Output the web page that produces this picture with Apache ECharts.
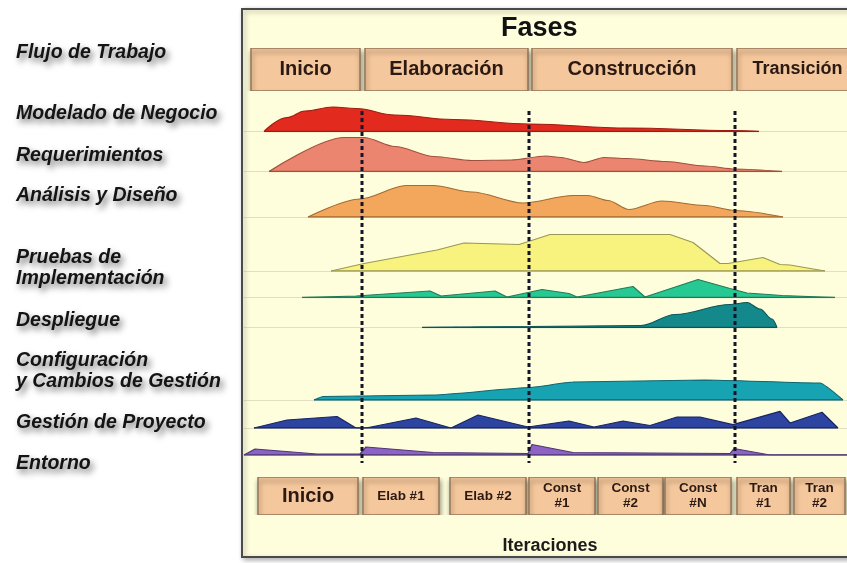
<!DOCTYPE html>
<html>
<head>
<meta charset="utf-8">
<script src="https://cdn.jsdelivr.net/npm/echarts@6/dist/echarts.min.js"></script>
<style>
  html, body { margin: 0; padding: 0; background: #ffffff; }
  #chart { width: 847px; height: 563px; }
</style>
</head>
<body>
<div id="chart"></div>
<script>
// ---- Project timeline (x axis runs from 0 to timelineMax) ----
const timelineMax = 604;

// Phases along the top
const phaseNames = ['Inicio', 'Elaboración', 'Construcción', 'Transición'];
const phaseStart = [8, 122, 289, 494];
const phaseEnd   = [117, 285, 489, 615];
const phaseBoundaries = [119, 286, 492];

// Iterations along the bottom
const iterationNames = ['Inicio', 'Elab #1', 'Elab #2', 'Const\n#1', 'Const\n#2', 'Const\n#N', 'Tran\n#1', 'Tran\n#2'];
const iterationStart = [15, 120, 207, 286, 355, 422, 494, 551];
const iterationEnd   = [115, 196, 283, 352, 420, 488, 547, 602];

// Workflow labels on the left
const workflowLabels = [
  'Flujo de Trabajo',
  'Modelado de Negocio',
  'Requerimientos',
  'Análisis y Diseño',
  'Pruebas de',
  'Implementación',
  'Despliegue',
  'Configuración',
  'y Cambios de Gestión',
  'Gestión de Proyecto',
  'Entorno'
];

// Effort over time for each workflow: [time, effort]
const modelado = [[21,0],[44,14],[62,20.5],[90,24.5],[113,23],[152,16.5],[210,12],[287,7.5],[384,3.5],[489,1],[516,0]];
const requerimientos = [[26,0],[101,34],[121,34],[152,25],[191,15],[229,11],[268,11.5],[303,15.5],[318,14],[341,9],[361,14],[384,13],[423,10],[462,5.5],[492,2.5],[539,0]];
const analisis = [[65,0],[117,18],[163,31.5],[190,31.5],[229,25],[280,14],[330,21.5],[345,21.5],[365,16.5],[386,7.5],[419,16],[462,11.5],[492,6.5],[540,0]];
const implementacion = [[88,0],[121,7.5],[194,21],[221,28],[276,26.5],[287,30],[307,36.5],[427,36.5],[450,28.5],[477,7.5],[485,7.5],[520,13.5],[537,6.5],[547,6],[582,0]];
const pruebas = [[59,0],[113,1.5],[187,6.5],[198,1.5],[252,6.5],[264,0.5],[299,8],[326,4],[334,0.5],[390,11],[402,0.5],[455,18],[487,9],[504,4.5],[539,2],[592,0]];
const despliegue = [[179,0],[287,1],[398,2],[432,13],[487,23],[504,25],[517,18.5],[529,8.5],[534,0]];
const configuracion = [[71,0],[80,3.5],[191,5],[287,12.5],[330,18],[462,20],[577,17],[600,0]];
const gestion = [[11,0],[44,8],[94,11.5],[113,0],[123,0],[173,10],[208,0],[235,13],[285,1],[326,7],[351,1],[380,7],[407,2.5],[434,11],[457,11],[490,3.3],[537,16.7],[547,5],[579,15.7],[595,0]];
const entorno = [[1,0],[12,6],[74,1],[117,1],[123,8],[190,2.5],[285,1.5],[289,10.5],[330,2.5],[487,1.5],[491,6.5],[527,0],[604,0]];

const workflows = [modelado, requerimientos, analisis, implementacion, pruebas, despliegue, configuracion, gestion, entorno];

// ---- Layout and styling ----
const plotLeft = 243;
const rowHeight = 45;
const rowBaselines = [131.5, 171.5, 217, 271, 297.5, 327.5, 400, 428, 455];
const rowFill = ['#E22B1E', '#EC8570', '#F2A75C', '#F7F37E', '#27C993', '#13898B', '#18A3B3', '#2D45A0', '#8C63C4'];
const rowEdge = ['#9E1C12', '#A0503D', '#A56A30', '#9B9754', '#237A55', '#0C5557', '#0E6670', '#172563', '#4E3675'];
const rowSmooth = [0.4, 0.3, 0.3, 0, 0, 0.35, 0.15, 0, 0];
const labelY = [54, 115, 156.5, 196.5, 258.5, 280, 321.5, 361.5, 383, 424, 465];

const boxFill = '#F5C79C';
const boxStroke = '#957558';
const boxText = '#2B1A14';

const chart = echarts.init(document.getElementById('chart'));

const grids = [];
const xAxes = [];
const yAxes = [];
const series = [];

function hiddenX(gridIndex, extra) {
  return Object.assign({
    type: 'value', gridIndex, min: 0, max: timelineMax,
    axisLine: { show: false }, axisTick: { show: false },
    axisLabel: { show: false }, splitLine: { show: false }
  }, extra || {});
}
function hiddenY(gridIndex, max) {
  return { type: 'value', gridIndex, min: 0, max: max, show: false };
}

function boxRenderer(starts, ends, names, fontFor, lineHeight) {
  return function (params, api) {
    const i = params.dataIndex;
    const p0 = api.coord([starts[i], 1]);
    const p1 = api.coord([ends[i], 0]);
    return {
      type: 'rect',
      shape: { x: p0[0], y: p0[1], width: p1[0] - p0[0], height: p1[1] - p0[1] },
      style: {
        fill: boxFill, stroke: boxStroke, lineWidth: 1.5,
        shadowBlur: 5, shadowOffsetX: 1, shadowOffsetY: 4,
        shadowColor: 'rgba(0,0,0,0.4)'
      },
      textContent: {
        style: {
          text: names[i], fill: boxText, font: fontFor(names[i]),
          align: 'center', verticalAlign: 'middle', lineHeight: lineHeight
        }
      },
      textConfig: { position: 'inside' }
    };
  };
}

// Grid 0: phase header
grids.push({ left: plotLeft, right: 0, top: 48, height: 43 });
xAxes.push(hiddenX(0));
yAxes.push(hiddenY(0, 1));
series.push({
  type: 'custom', xAxisIndex: 0, yAxisIndex: 0, clip: true, z: 5,
  data: phaseNames.map((n, i) => [phaseStart[i], phaseEnd[i]]),
  renderItem: boxRenderer(phaseStart, phaseEnd, phaseNames,
    n => n === 'Transición' ? 'bold 18px "Liberation Sans", Arial, sans-serif'
                             : 'bold 20px "Liberation Sans", Arial, sans-serif', 22)
});

// Grids 1..9: one row per workflow
workflows.forEach((data, k) => {
  const g = k + 1;
  grids.push({ left: plotLeft, right: 0, top: rowBaselines[k] - rowHeight, height: rowHeight });
  xAxes.push(hiddenX(g, {
    axisLine: { show: true, onZero: false, lineStyle: { color: 'rgba(170,170,140,0.35)', width: 1 } }
  }));
  yAxes.push(hiddenY(g, rowHeight));
  series.push({
    type: 'line', xAxisIndex: g, yAxisIndex: g, data: data,
    symbol: 'none', smooth: rowSmooth[k], smoothMonotone: 'x',
    lineStyle: { color: rowEdge[k], width: 1.2 },
    areaStyle: { color: rowFill[k], opacity: 1 },
    z: 3, silent: true
  });
  series.push({
    type: 'line', xAxisIndex: g, yAxisIndex: g,
    data: [[data[0][0], 0], [data[data.length - 1][0], 0]],
    symbol: 'none', lineStyle: { color: rowEdge[k], width: 1.6 },
    z: 4, silent: true
  });
});

// Grid 10: dashed phase boundaries across all workflows
grids.push({ left: plotLeft, right: 0, top: 111, height: 352 });
xAxes.push(hiddenX(10));
yAxes.push(hiddenY(10, 1));
series.push({
  type: 'custom', xAxisIndex: 10, yAxisIndex: 10, z: 8, silent: true,
  data: phaseBoundaries.map(x => [x]),
  renderItem: function (params, api) {
    const a = api.coord([api.value(0), 1]);
    const b = api.coord([api.value(0), 0]);
    return {
      type: 'line',
      shape: { x1: a[0], y1: a[1], x2: b[0], y2: b[1] },
      style: { stroke: '#15152A', lineWidth: 3, lineDash: [4, 3] }
    };
  }
});

// Grid 11: iteration footer
grids.push({ left: plotLeft, right: 0, top: 477, height: 38 });
xAxes.push(hiddenX(11, {
  name: 'Iteraciones', nameLocation: 'middle', nameGap: 22,
  nameTextStyle: { fontSize: 18, fontWeight: 'bold', color: '#1E1A1A', fontFamily: '"Liberation Sans", Arial, sans-serif', padding: [0, 0, 0, 10] }
}));
yAxes.push(hiddenY(11, 1));
series.push({
  type: 'custom', xAxisIndex: 11, yAxisIndex: 11, clip: true, z: 5,
  data: iterationNames.map((n, i) => [iterationStart[i], iterationEnd[i]]),
  renderItem: boxRenderer(iterationStart, iterationEnd, iterationNames,
    n => n === 'Inicio' ? 'bold 20px "Liberation Sans", Arial, sans-serif'
                        : 'bold 13.5px "Liberation Sans", Arial, sans-serif', 15)
});

// Left-hand workflow names and the framed panel
const graphics = [{
  type: 'rect', z: -10,
  shape: { x: 242, y: 9, width: 630, height: 548 },
  style: {
    fill: '#FEFEDD', stroke: '#4A4A4A', lineWidth: 2,
    shadowBlur: 5, shadowOffsetX: 2, shadowOffsetY: 2, shadowColor: 'rgba(0,0,0,0.3)'
  }
}];
workflowLabels.forEach((t, i) => {
  graphics.push({
    type: 'text', left: 16, top: labelY[i] - 11, z: 5,
    style: {
      text: t, fill: '#141414',
      font: 'italic bold 19.5px "Liberation Sans", Arial, sans-serif',
      textShadowColor: 'rgba(0,0,0,0.55)', textShadowBlur: 6,
      textShadowOffsetX: 3, textShadowOffsetY: 4
    }
  });
});

chart.setOption({
  backgroundColor: '#ffffff',
  animation: false,
  title: {
    text: 'Fases', left: 496, top: 10,
    textStyle: { fontSize: 27, fontWeight: 'bold', color: '#111111', fontFamily: '"Liberation Sans", Arial, sans-serif' }
  },
  grid: grids,
  xAxis: xAxes,
  yAxis: yAxes,
  graphic: graphics,
  series: series
});
</script>
</body>
</html>
